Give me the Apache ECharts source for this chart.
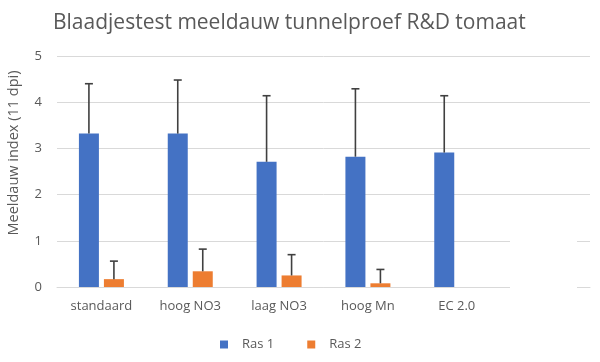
<!DOCTYPE html>
<html>
<head>
<meta charset="utf-8">
<script src="https://cdn.jsdelivr.net/npm/echarts@6/dist/echarts.min.js"></script>
<style>
html,body{margin:0;padding:0;background:#fff;}
#chart{width:600px;height:362px;}
</style>
</head>
<body>
<div id="chart"></div>
<script>
const categories = ['standaard', 'hoog NO3', 'laag NO3', 'hoog Mn', 'EC 2.0', ''];
const ras1 = [3.32, 3.32, 2.71, 2.82, 2.91, null];
const ras1Err = [1.08, 1.16, 1.43, 1.47, 1.23, null];
const ras2 = [0.17, 0.34, 0.25, 0.08, null, null];
const ras2Err = [0.39, 0.48, 0.45, 0.30, null, null];
const yTicks = [0, 1, 2, 3, 4, 5];

const FONT = '"Open Sans", "Liberation Sans", sans-serif';
const BAR_W = 20, OFFSET = 12.5;

function errSeries(name, vals, errs, off) {
  const data = [];
  vals.forEach((v, i) => { if (v != null && errs[i] != null) data.push([i, v, v + errs[i]]); });
  return {
    type: 'custom', name: name, z: 5,
    renderItem: function (params, api) {
      const base = api.coord([api.value(0), api.value(1)]);
      const top = api.coord([api.value(0), api.value(2)]);
      const x = base[0] + off;
      return {
        type: 'group',
        children: [
          { type: 'line', shape: { x1: x, y1: base[1], x2: x, y2: top[1] }, style: { stroke: '#404040', lineWidth: 1.6 } },
          { type: 'line', shape: { x1: x - 4, y1: top[1], x2: x + 4, y2: top[1] }, style: { stroke: '#404040', lineWidth: 1.6 } }
        ]
      };
    },
    encode: { x: 0, y: [1, 2] },
    data: data,
    silent: true
  };
}

const chart = echarts.init(document.getElementById('chart'), null, { renderer: 'canvas' });
chart.setOption({
  animation: false,
  backgroundColor: '#ffffff',
  title: {
    text: 'Blaadjestest meeldauw tunnelproef R&D tomaat',
    left: 48, top: 8,
    textStyle: { fontFamily: FONT, fontSize: 21, fontWeight: 'normal', color: '#595959' }
  },
  grid: { left: 57, right: 10, top: 56, bottom: 75 },
  legend: {
    data: ['Ras 1', 'Ras 2'],
    left: 215, top: 333,
    icon: 'rect', itemWidth: 8, itemHeight: 8, itemGap: 33,
    textStyle: { fontFamily: FONT, fontSize: 13, color: '#595959', padding: [5, 0, 0, 9] }
  },
  xAxis: {
    type: 'category', data: categories,
    axisLine: { show: true, lineStyle: { color: '#D9D9D9', width: 1 } },
    axisTick: { show: false },
    axisLabel: { fontFamily: FONT, fontSize: 13, color: '#595959', margin: 13, interval: 0 }
  },
  yAxis: {
    type: 'value', min: yTicks[0], max: yTicks[yTicks.length - 1], interval: 1,
    axisLine: { show: false }, axisTick: { show: false },
    splitLine: { lineStyle: { color: '#D9D9D9', width: 1 } },
    axisLabel: { fontFamily: FONT, fontSize: 13, color: '#595959', margin: 15 }
  },
  graphic: [
    {
      type: 'text', x: 6, y: 153, rotation: Math.PI / 2, z: 10,
      style: { text: 'Meeldauw index (11 dpi)', fontFamily: FONT, fontSize: 14.5, fill: '#595959', align: 'center', verticalAlign: 'top' }
    },
    {
      type: 'rect', z: 100, shape: { x: 510, y: 232, width: 67, height: 60 },
      style: { fill: '#ffffff' }
    }
  ],
  series: [
    { name: 'Ras 1', type: 'bar', data: ras1, barWidth: BAR_W, barGap: '25%', itemStyle: { color: '#4472C4' } },
    { name: 'Ras 2', type: 'bar', data: ras2, barWidth: BAR_W, barGap: '25%', itemStyle: { color: '#ED7D31' } },
    errSeries('err1', ras1, ras1Err, -OFFSET),
    errSeries('err2', ras2, ras2Err, OFFSET)
  ]
});
</script>
</body>
</html>
